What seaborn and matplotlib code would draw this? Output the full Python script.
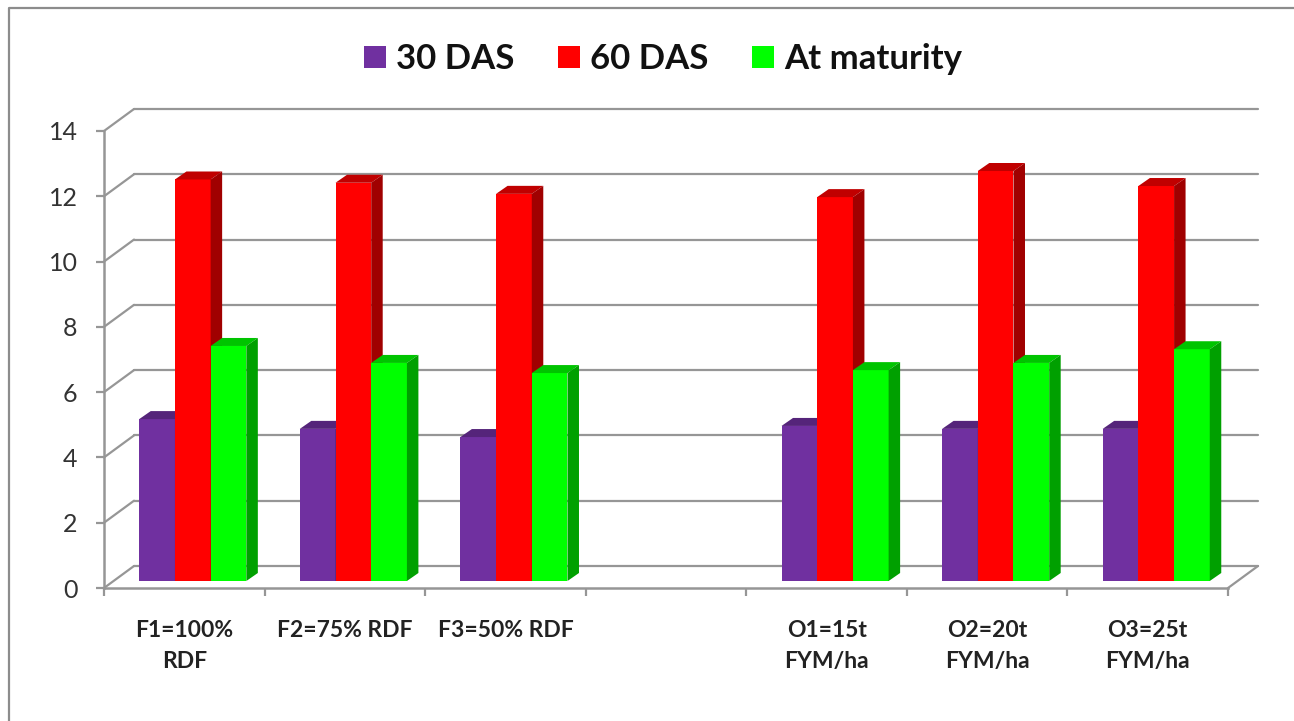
import numpy as np
import pandas as pd
import matplotlib
matplotlib.use("Agg")
import matplotlib.pyplot as plt
import matplotlib.transforms as mtrans
from matplotlib.lines import Line2D
from matplotlib.patches import Polygon, Patch
import seaborn as sns

categories = ["F1=100%\nRDF", "F2=75% RDF", "F3=50% RDF", " ",
              "O1=15t\nFYM/ha", "O2=20t\nFYM/ha", "O3=25t\nFYM/ha"]
filled = [0, 1, 2, 4, 5, 6]
das_30 = [4.96, 4.66, 4.41, 4.75, 4.66, 4.66]
das_60 = [12.30, 12.20, 11.86, 11.76, 12.56, 12.10]
maturity = [7.20, 6.68, 6.37, 6.46, 6.68, 7.10]
stages = ["30 DAS", "60 DAS", "At maturity"]
front_colors = ["#7030A0", "#FF0000", "#00FF00"]
top_colors = ["#55247A", "#C00000", "#00C400"]
side_colors = ["#4B2070", "#A00000", "#00A000"]
GRID = "#969696"

sns.set_theme(style="white")
plt.rcParams["font.family"] = ["Lato", "DejaVu Sans"]

W, H = 1294, 721
fig = plt.figure(figsize=(W / 100, H / 100), dpi=100, facecolor="white")
# axes = front plane of the fake 3D box
ax = fig.add_axes([104 / W, 1 - 588 / H, (1228 - 104) / W, (588 - 131) / H])

rows = []
for vals, stage in zip([das_30, das_60, maturity], stages):
    for i, v in zip(filled, vals):
        rows.append({"cat": categories[i], "stage": stage, "value": v})
df = pd.DataFrame(rows)

sns.barplot(data=df, x="cat", y="value", hue="stage", order=categories, hue_order=stages,
            palette=front_colors, saturation=1, width=0.667, gap=0, legend=False, ax=ax)
ax.set_xlim(-0.5, 6.5)
ax.set_ylim(0, 14)
ax.set_xlabel("")
ax.set_ylabel("")

px_x = 7 / (1228 - 104)  # data units per pixel
px_y = 14 / (588 - 131)


def shifted(dx, dy):
    return ax.transData + mtrans.Affine2D().translate(dx, dy)


# bars sit a little inside the box, the wall at the back of it
bar_shift = shifted(8.5, 7)
wall = shifted(30, 22)

for y in np.arange(0, 15, 2):
    ax.plot([-0.5, 6.5], [y, y], transform=wall, color=GRID, lw=1.6, clip_on=False, zorder=1)
    x_off = 30 * px_x
    y_off = 22 * px_y
    ax.plot([-0.5, -0.5 + x_off], [y, y + y_off], color=GRID, lw=1.6, clip_on=False, zorder=1)
ax.plot([6.5, 6.5 + 30 * px_x], [0, 22 * px_y], color=GRID, lw=1.6, clip_on=False, zorder=1)

depth_x = 11.5 * px_x
depth_y = 8 * px_y
n_cat = len(filled)
bars = [p for p in ax.patches if p.get_height() > 0]
for k, bar in enumerate(bars):
    h = k // n_cat
    z = 3 + h
    bar.set_transform(bar_shift)
    bar.set_zorder(z)
    bar.set_edgecolor("none")
    bar.set_clip_on(False)
    x0, x1 = bar.get_x(), bar.get_x() + bar.get_width()
    top = bar.get_height()
    ax.add_patch(Polygon([(x0, top), (x1, top), (x1 + depth_x, top + depth_y), (x0 + depth_x, top + depth_y)],
                         facecolor=top_colors[h], edgecolor="none", transform=bar_shift, zorder=z, clip_on=False))
    ax.add_patch(Polygon([(x1, 0), (x1 + depth_x, depth_y), (x1 + depth_x, top + depth_y), (x1, top)],
                         facecolor=side_colors[h], edgecolor="none", transform=bar_shift, zorder=z, clip_on=False))

sns.despine(ax=ax, top=True, right=True)
for side in ["left", "bottom"]:
    ax.spines[side].set_color(GRID)
    ax.spines[side].set_linewidth(1.8)
    ax.spines[side].set_zorder(2)

ax.set_yticks(np.arange(0, 15, 2))
ax.tick_params(axis="y", length=6, width=1.6, color=GRID, labelsize=18, labelcolor="#333333", pad=13, left=True)
ax.set_xticks(np.arange(-0.5, 7, 1))
ax.set_xticklabels([])
ax.tick_params(axis="x", which="major", length=6, width=1.6, color=GRID, bottom=True)
ax.set_xticks(np.arange(7), minor=True)
ax.set_xticklabels(categories, minor=True, fontsize=16.5, fontweight="bold", color="#222222", linespacing=1.6)
ax.tick_params(axis="x", which="minor", length=0, pad=23)

handles = [Patch(facecolor=c, edgecolor="none", label=s) for c, s in zip(front_colors, stages)]
fig.legend(handles=handles, loc="center", bbox_to_anchor=(663 / W, 1 - 59 / H), ncol=3, frameon=False,
           prop={"size": 25, "weight": "bold"}, labelcolor="#111111", handlelength=0.63, handleheight=0.58,
           handletextpad=0.28, columnspacing=1.27)

# outer chart border: only left and top show inside the crop
fig.add_artist(Line2D([9 / W, 9 / W, 1], [0, 1 - 8 / H, 1 - 8 / H], transform=fig.transFigure,
                      color="#8C8C8C", lw=1.6))

fig.savefig("out.png", dpi=100)
